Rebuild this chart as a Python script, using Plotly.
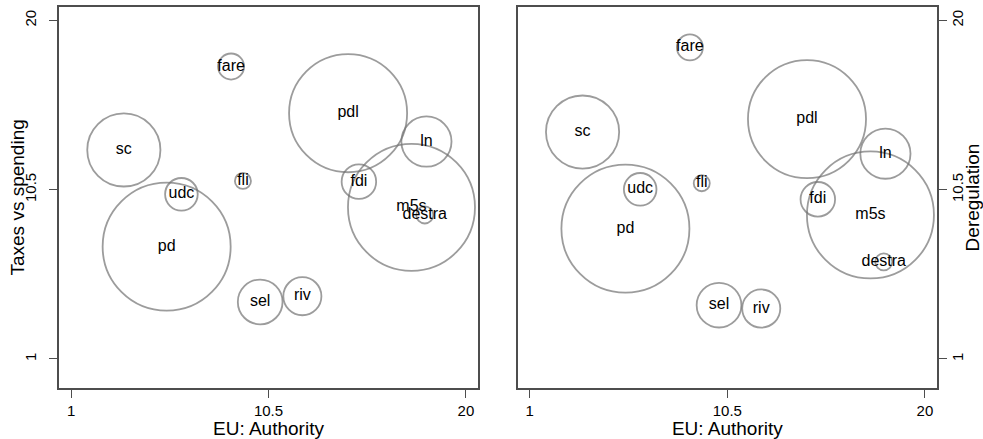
import plotly.graph_objects as go
from plotly.subplots import make_subplots

parties = ["fare", "pdl", "sc", "ln", "fli", "fdi", "udc", "m5s", "destra", "pd", "sel", "riv"]
eu_authority = [8.70, 14.33, 3.54, 18.10, 9.27, 14.85, 6.31, 17.38, 18.02, 5.60, 10.10, 12.13]
taxes_vs_spending = [17.41, 14.79, 12.73, 13.20, 10.99, 10.95, 10.24, 9.51, 9.08, 7.30, 4.20, 4.52]
deregulation = [18.48, 14.46, 13.73, 12.52, 10.86, 9.96, 10.52, 9.08, 6.45, 8.31, 4.02, 3.83]
vote_share = [1.05, 21.6, 8.3, 3.9, 0.40, 1.85, 1.65, 25.0, 0.45, 25.4, 3.1, 2.25]

tick_vals = [1, 10.5, 20]
tick_text = ["1", "10.5", "20"]

FONT = "Liberation Sans, Arial, Helvetica, sans-serif"
CIRCLE = "#737373"
AXIS = "#4d4d4d"
SIZEREF = 2 / 25.4 ** 2
TITLE_FONT = dict(family=FONT, size=19, color="black")

fig = make_subplots(rows=1, cols=2, horizontal_spacing=0.045)

for col, yvals in ((1, taxes_vs_spending), (2, deregulation)):
    fig.add_trace(
        go.Scatter(
            x=eu_authority, y=yvals, text=parties,
            mode="markers+text", textposition="middle center",
            textfont=dict(family=FONT, size=16, color="black"),
            marker=dict(size=vote_share, sizemode="area", sizeref=SIZEREF,
                        color="rgba(0,0,0,0)",
                        line=dict(color=CIRCLE, width=1.8)),
            showlegend=False, hoverinfo="text",
        ),
        row=1, col=col,
    )

xa = dict(range=[0.42, 20.58], tickvals=tick_vals, ticktext=tick_text,
          ticks="outside", ticklen=8, tickwidth=1.3, tickcolor=AXIS,
          showline=True, linecolor=AXIS, linewidth=1.8, mirror=True,
          showgrid=False, zeroline=False, automargin=False,
          tickfont=dict(family=FONT, size=15, color="black"),
          title=dict(text="EU: Authority", standoff=0, font=TITLE_FONT))
ya = dict(range=[-0.63, 20.75], tickvals=tick_vals, ticktext=tick_text,
          ticks="outside", ticklen=8, tickwidth=1.3, tickcolor=AXIS, tickangle=-90,
          showline=True, linecolor=AXIS, linewidth=1.8, mirror=True,
          showgrid=False, zeroline=False, automargin=False,
          tickfont=dict(family=FONT, size=15, color="black"))

fig.update_layout(
    width=983, height=439,
    margin=dict(l=59, r=46, t=7, b=51),
    paper_bgcolor="white", plot_bgcolor="white",
    xaxis=dict(xa, domain=[0, 0.4772]),
    xaxis2=dict(xa, domain=[0.5224, 1]),
    yaxis=dict(ya, side="left", ticklabelstandoff=7),
    yaxis2=dict(ya, side="right", ticklabelstandoff=-2,
                title=dict(text="Deregulation", standoff=2, font=TITLE_FONT)),
    annotations=[dict(text="Taxes vs spending", xref="paper", yref="paper",
                      x=-0.0478, y=0.5, xanchor="center", yanchor="middle",
                      textangle=-90, showarrow=False, font=TITLE_FONT)],
)

fig.write_html("out.html", config={"displayModeBar": False},
               post_script="document.body.style.margin='0';")
